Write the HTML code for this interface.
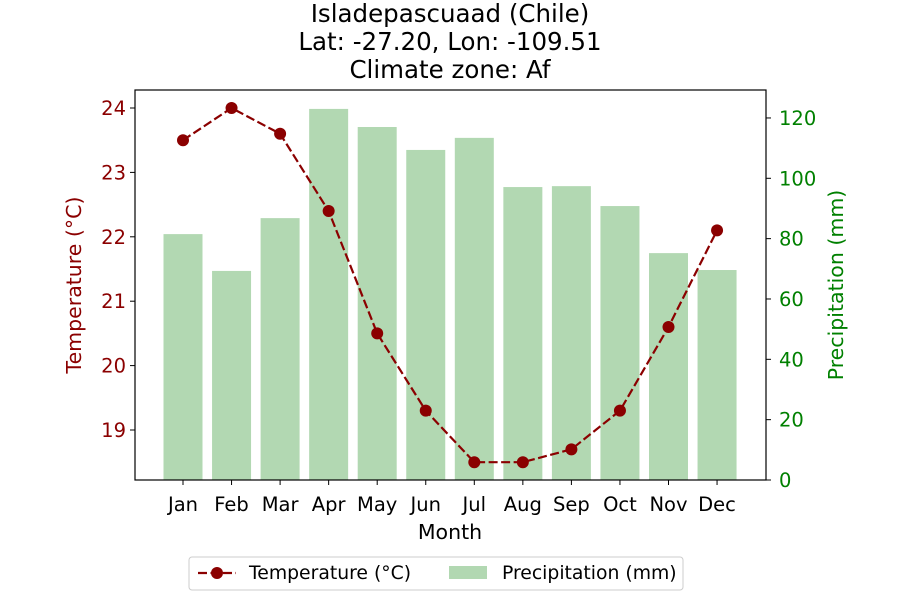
<!DOCTYPE html>
<html><head><meta charset="utf-8"><style>
body{margin:0;background:#fff;font-family:"Liberation Sans","DejaVu Sans",sans-serif}
text{font-family:"DejaVu Sans","Liberation Sans",sans-serif}
</style></head><body>
<svg id="chart" width="900" height="600" xmlns="http://www.w3.org/2000/svg">
<g font-size="24.5" text-anchor="middle" fill="#000">
<text x="450" y="22">Isladepascuaad (Chile)</text>
<text x="450" y="50">Lat: -27.20, Lon: -109.51</text>
<text x="450" y="78">Climate zone: Af</text>
</g>
<g id="bars"></g><g id="line"></g><g id="axes"></g>
<rect x="135" y="90" width="631" height="390" fill="none" stroke="#000" stroke-width="1.2"/>
<text x="450" y="539" font-size="20.5" text-anchor="middle">Month</text>
<text transform="translate(81,285) rotate(-90)" font-size="20.5" text-anchor="middle" fill="#8b0000">Temperature (°C)</text>
<text transform="translate(843,285) rotate(-90)" font-size="20.5" text-anchor="middle" fill="#008000">Precipitation (mm)</text>
<g>
<rect x="189" y="557" width="494" height="33" rx="3" fill="#fff" stroke="#ccc"/>
<line x1="198" y1="573" x2="236" y2="573" stroke="#8b0000" stroke-width="2.2" stroke-dasharray="9,3.5"/>
<circle cx="217" cy="573" r="6" fill="#8b0000"/>
<text x="249" y="579" font-size="18.8">Temperature (°C)</text>
<rect x="449" y="566" width="38" height="13" fill="#b2d8b2"/>
<text x="502" y="579" font-size="18.8">Precipitation (mm)</text>
</g>
</svg>
<script>
const months=["Jan","Feb","Mar","Apr","May","Jun","Jul","Aug","Sep","Oct","Nov","Dec"];
const temps=[23.5,24.0,23.6,22.4,20.5,19.3,18.5,18.5,18.7,19.3,20.6,22.1];
const precip=[81.5,69.3,86.8,123,117,109.4,113.4,97.1,97.4,90.8,75.2,69.6];
const tempTicks=[19,20,21,22,23,24];
const precipTicks=[0,20,40,60,80,100,120];
const NS="http://www.w3.org/2000/svg";
const xS=i=>183+i*48.55;
const yT=t=>430-(t-19)*64.4;
const yP=p=>480-p*3.017;
function mk(tag,attrs,parent){const e=document.createElementNS(NS,tag);for(const k in attrs)e.setAttribute(k,attrs[k]);document.getElementById(parent).appendChild(e);return e;}
precip.forEach((p,i)=>{const r=mk('rect',{x:xS(i)-19.5,y:yP(p),width:39,height:480-yP(p),fill:'#b2d8b2'},'bars');

});
const pl=mk('polyline',{points:temps.map((t,i)=>xS(i)+','+yT(t)).join(' '),fill:'none',stroke:'#8b0000','stroke-width':2.2,'stroke-dasharray':'9,3.5'},'line');


temps.forEach((t,i)=>{const c=mk('circle',{cx:xS(i),cy:yT(t),r:6,fill:'#8b0000'},'line');

});
months.forEach((m,i)=>{mk('line',{x1:xS(i),x2:xS(i),y1:480,y2:485,stroke:'#000'},'axes');
const t=mk('text',{x:xS(i),y:511,'font-size':19.5,'text-anchor':'middle'},'axes');t.textContent=m;

});
tempTicks.forEach(v=>{mk('line',{x1:130,x2:135,y1:yT(v),y2:yT(v),stroke:'#000'},'axes');
const t=mk('text',{x:126,y:yT(v)+7,'font-size':19.5,'text-anchor':'end',fill:'#8b0000'},'axes');t.textContent=v;

});
precipTicks.forEach(v=>{mk('line',{x1:766,x2:771,y1:yP(v),y2:yP(v),stroke:'#000'},'axes');
const t=mk('text',{x:779,y:yP(v)+7,'font-size':19.5,'text-anchor':'start',fill:'#008000'},'axes');t.textContent=v;

});
</script>
</body></html>
